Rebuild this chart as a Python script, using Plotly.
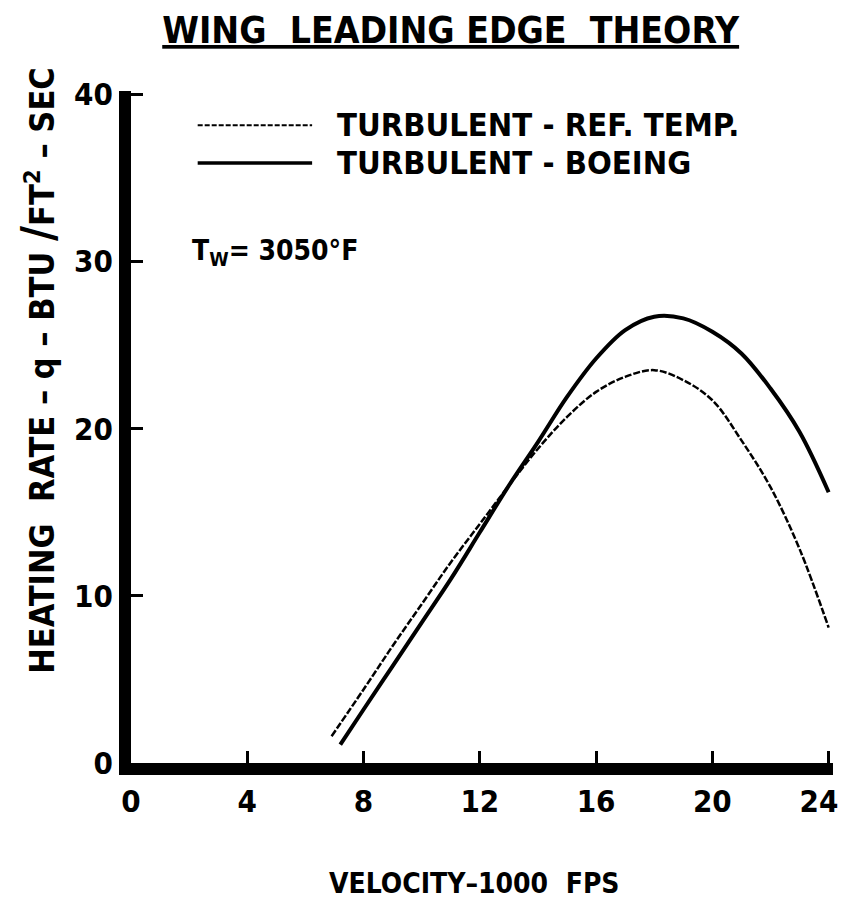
import plotly.graph_objects as go

# velocity (1000 fps) and heating rate (BTU/ft^2-sec)
ref_temp_velocity = [6.9, 8, 9, 10, 11, 12, 13, 14, 15, 16, 17, 18, 19, 20, 21, 22, 23, 24]
ref_temp_q = [1.6, 4.4, 7.0, 9.5, 12.0, 14.3, 16.6, 18.8, 20.7, 22.2, 23.1, 23.5, 22.9, 21.7, 19.3, 16.5, 12.8, 8.1]

boeing_velocity = [7.2, 8, 9, 10, 11, 12, 13, 14, 15, 16, 17, 18, 19, 20, 21, 22, 23, 24]
boeing_q = [1.1, 3.2, 5.8, 8.4, 11.0, 13.8, 16.6, 19.2, 21.9, 24.2, 25.9, 26.7, 26.6, 25.8, 24.5, 22.4, 19.8, 16.2]

x_ticks = [0, 4, 8, 12, 16, 20, 24]
# last label padded so it stays inside the window
x_tick_labels = ["0", "4", "8", "12", "16", "20", "24\u00a0\u00a0"]
y_ticks = [0, 10, 20, 30, 40]

FONT = "DejaVu Sans Condensed, Liberation Sans Narrow, DejaVu Sans"


def bold(size):
    return dict(family=FONT, size=size, color="black", weight="bold")


fig = go.Figure()
fig.add_scatter(
    x=ref_temp_velocity, y=ref_temp_q, mode="lines", name="TURBULENT - REF. TEMP.",
    line=dict(color="black", width=2.5, dash="7px,2px", shape="spline"),
)
fig.add_scatter(
    x=boeing_velocity, y=boeing_q, mode="lines", name="TURBULENT - BOEING",
    line=dict(color="black", width=4, shape="spline"),
)

# hand-drawn style legend
legend_rows = [
    (0.949, "TURBULENT - REF. TEMP.", dict(color="black", width=2, dash="5px,2px")),
    (0.893, "TURBULENT - BOEING", dict(color="black", width=3.5)),
]
for y, label, line in legend_rows:
    fig.add_shape(type="line", xref="paper", yref="paper", x0=0.095, x1=0.258, y0=y, y1=y, line=line)
    fig.add_annotation(
        xref="paper", yref="paper", x=0.29, y=y, text=label, showarrow=False,
        xanchor="left", yanchor="middle", font=bold(32.5),
    )

fig.add_annotation(
    xref="paper", yref="paper", x=0.084, y=0.76, text="T<sub>W</sub>= 3050°F", showarrow=False,
    xanchor="left", yanchor="middle", font=bold(28),
)

# axis titles
fig.add_annotation(
    xref="paper", yref="paper", x=-0.1325, y=0.585, textangle=-90, showarrow=False,
    text="HEATING  RATE – q – BTU <span style='font-size:46px'>/</span>FT<sup>2</sup> – SEC",
    xanchor="center", yanchor="middle", font=bold(34),
)
fig.add_annotation(
    xref="paper", yref="paper", x=0.49, y=-0.1786, text="VELOCITY–1000  FPS", showarrow=False,
    xanchor="center", yanchor="middle", font=bold(28),
)

axis_common = dict(
    showline=True, linecolor="black", linewidth=12, mirror=False,
    ticks="inside", ticklen=12, tickwidth=3, tickcolor="black",
    showgrid=False, zeroline=False, ticklabeloverflow="allow", automargin=False,
    tickfont=bold(31),
)

# page adds an 8px body margin, so the figure is sized to fit inside the 848x912 window
fig.update_layout(
    width=840, height=896,
    paper_bgcolor="white", plot_bgcolor="white",
    margin=dict(l=123, r=15, t=83, b=141, autoexpand=False),
    showlegend=False,
    title=dict(
        text="<u>WING  LEADING EDGE  THEORY</u>", x=0.527, xanchor="center", y=0.9754, yanchor="middle",
        font=bold(37),
    ),
    xaxis=dict(axis_common, range=[0, 24.15], tickvals=x_ticks, ticktext=x_tick_labels),
    yaxis=dict(axis_common, range=[0, 40.2], tickvals=y_ticks),
)

fig.write_html("out.html")
